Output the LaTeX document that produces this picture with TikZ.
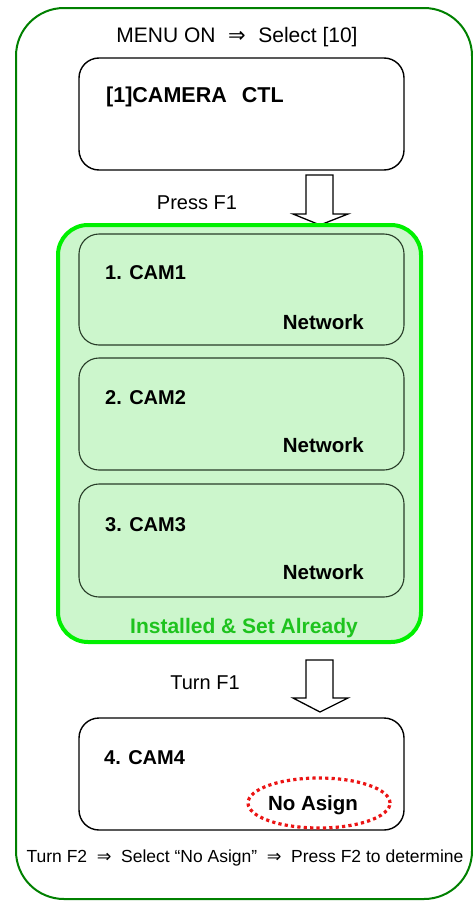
\documentclass[tikz,border=0pt]{standalone}
\usepackage{fontspec}
\setmainfont{Liberation Sans}
\newfontfamily\symf{DejaVu Sans}
\usetikzlibrary{shapes.geometric}
\definecolor{outerg}{RGB}{0,128,0}
\definecolor{brightg}{RGB}{0,240,0}
\definecolor{fillg}{RGB}{204,246,204}
\definecolor{labelg}{RGB}{30,195,30}
\definecolor{innerl}{RGB}{40,60,40}
\definecolor{dotred}{RGB}{235,20,20}
\begin{document}
\begin{tikzpicture}[x=1pt,y=-1pt,
  box/.style={draw=black, line width=1.4pt, rounded corners=20pt, inner sep=0pt},
  inbox/.style={draw=innerl, line width=1.1pt, rounded corners=20pt, inner sep=0pt},
  reg/.style={font=\fontsize{20}{24}\selectfont, inner sep=0pt},
  bld/.style={font=\fontsize{20}{24}\selectfont\bfseries, inner sep=0pt},
  blockarrow/.style={draw=black, line width=1.3pt, fill=white, line join=miter}
]
\useasboundingbox (0,0) rectangle (473,902);
% outer frame
\node[draw=outerg, line width=2pt, rounded corners=48pt, minimum width=456pt, minimum height=891pt, inner sep=0pt] (outer) at (244,453.5) {};
% title
\node[reg, font=\fontsize{21}{25}\selectfont] (title) at (237,37) {MENU ON\hspace{0.6em}{\symf ⇒}\hspace{0.6em}Select [10]};
% box 1
\node[box, minimum width=325pt, minimum height=112pt] (b1) at (241.5,114) {};
\node[bld, anchor=west, font=\fontsize{21.5}{25}\selectfont\bfseries] (b1t) at (106,97) {[1]CAMERA\hspace{0.7em}CTL};
% arrow 1
\draw[blockarrow] (306,175) -- (333,175) -- (333,214) -- (348,214) -- (320,225) -- (293,214) -- (306,214) -- cycle;
\node[reg] (press) at (197,203) {Press F1};
% green group
\node[draw=brightg, fill=fillg, line width=4pt, rounded corners=30pt, minimum width=363pt, minimum height=417pt, inner sep=0pt] (grp) at (239.5,433.5) {};
\node[inbox, minimum width=325pt, minimum height=111pt] (c1) at (241.5,289.5) {};
\node[inbox, minimum width=325pt, minimum height=112pt] (c2) at (241.5,414) {};
\node[inbox, minimum width=325pt, minimum height=113pt] (c3) at (241.5,540.5) {};
\node[bld, anchor=west] (c1t) at (105,273) {1. CAM1};
\node[bld, anchor=east, font=\fontsize{20.5}{24}\selectfont\bfseries] (c1n) at (364,322) {Network};
\node[bld, anchor=west] (c2t) at (105,398) {2. CAM2};
\node[bld, anchor=east, font=\fontsize{20.5}{24}\selectfont\bfseries] (c2n) at (364,445) {Network};
\node[bld, anchor=west] (c3t) at (105,525) {3. CAM3};
\node[bld, anchor=east, font=\fontsize{20.5}{24}\selectfont\bfseries] (c3n) at (364,572) {Network};
\node[bld, text=labelg, font=\fontsize{21}{24}\selectfont\bfseries] (inst) at (244,628) {Installed \& Set Already};
% arrow 2
\draw[blockarrow] (306,660) -- (333,660) -- (333,698) -- (348,698) -- (320,712) -- (293,698) -- (306,698) -- cycle;
\node[reg] (turn1) at (205,683) {Turn F1};
% box 4
\node[box, minimum width=325pt, minimum height=112pt] (b4) at (241.5,774) {};
\node[bld, anchor=west] (b4t) at (104,758) {4. CAM4};
\node[bld, font=\fontsize{20.5}{24}\selectfont\bfseries] (noa) at (313,805) {No Asign};
\node[draw=dotred, line width=3.2pt, dash pattern=on 3.2pt off 3.2pt, ellipse, minimum width=142pt, minimum height=50pt, inner sep=0pt] (ell) at (319,803) {};
% bottom text
\node[reg, font=\fontsize{17.5}{20}\selectfont] (bottom) at (245,858) {Turn F2\hspace{0.55em}{\symf ⇒}\hspace{0.55em}Select “No Asign”\hspace{0.55em}{\symf ⇒}\hspace{0.55em}Press F2 to determine};
\end{tikzpicture}
\end{document}
